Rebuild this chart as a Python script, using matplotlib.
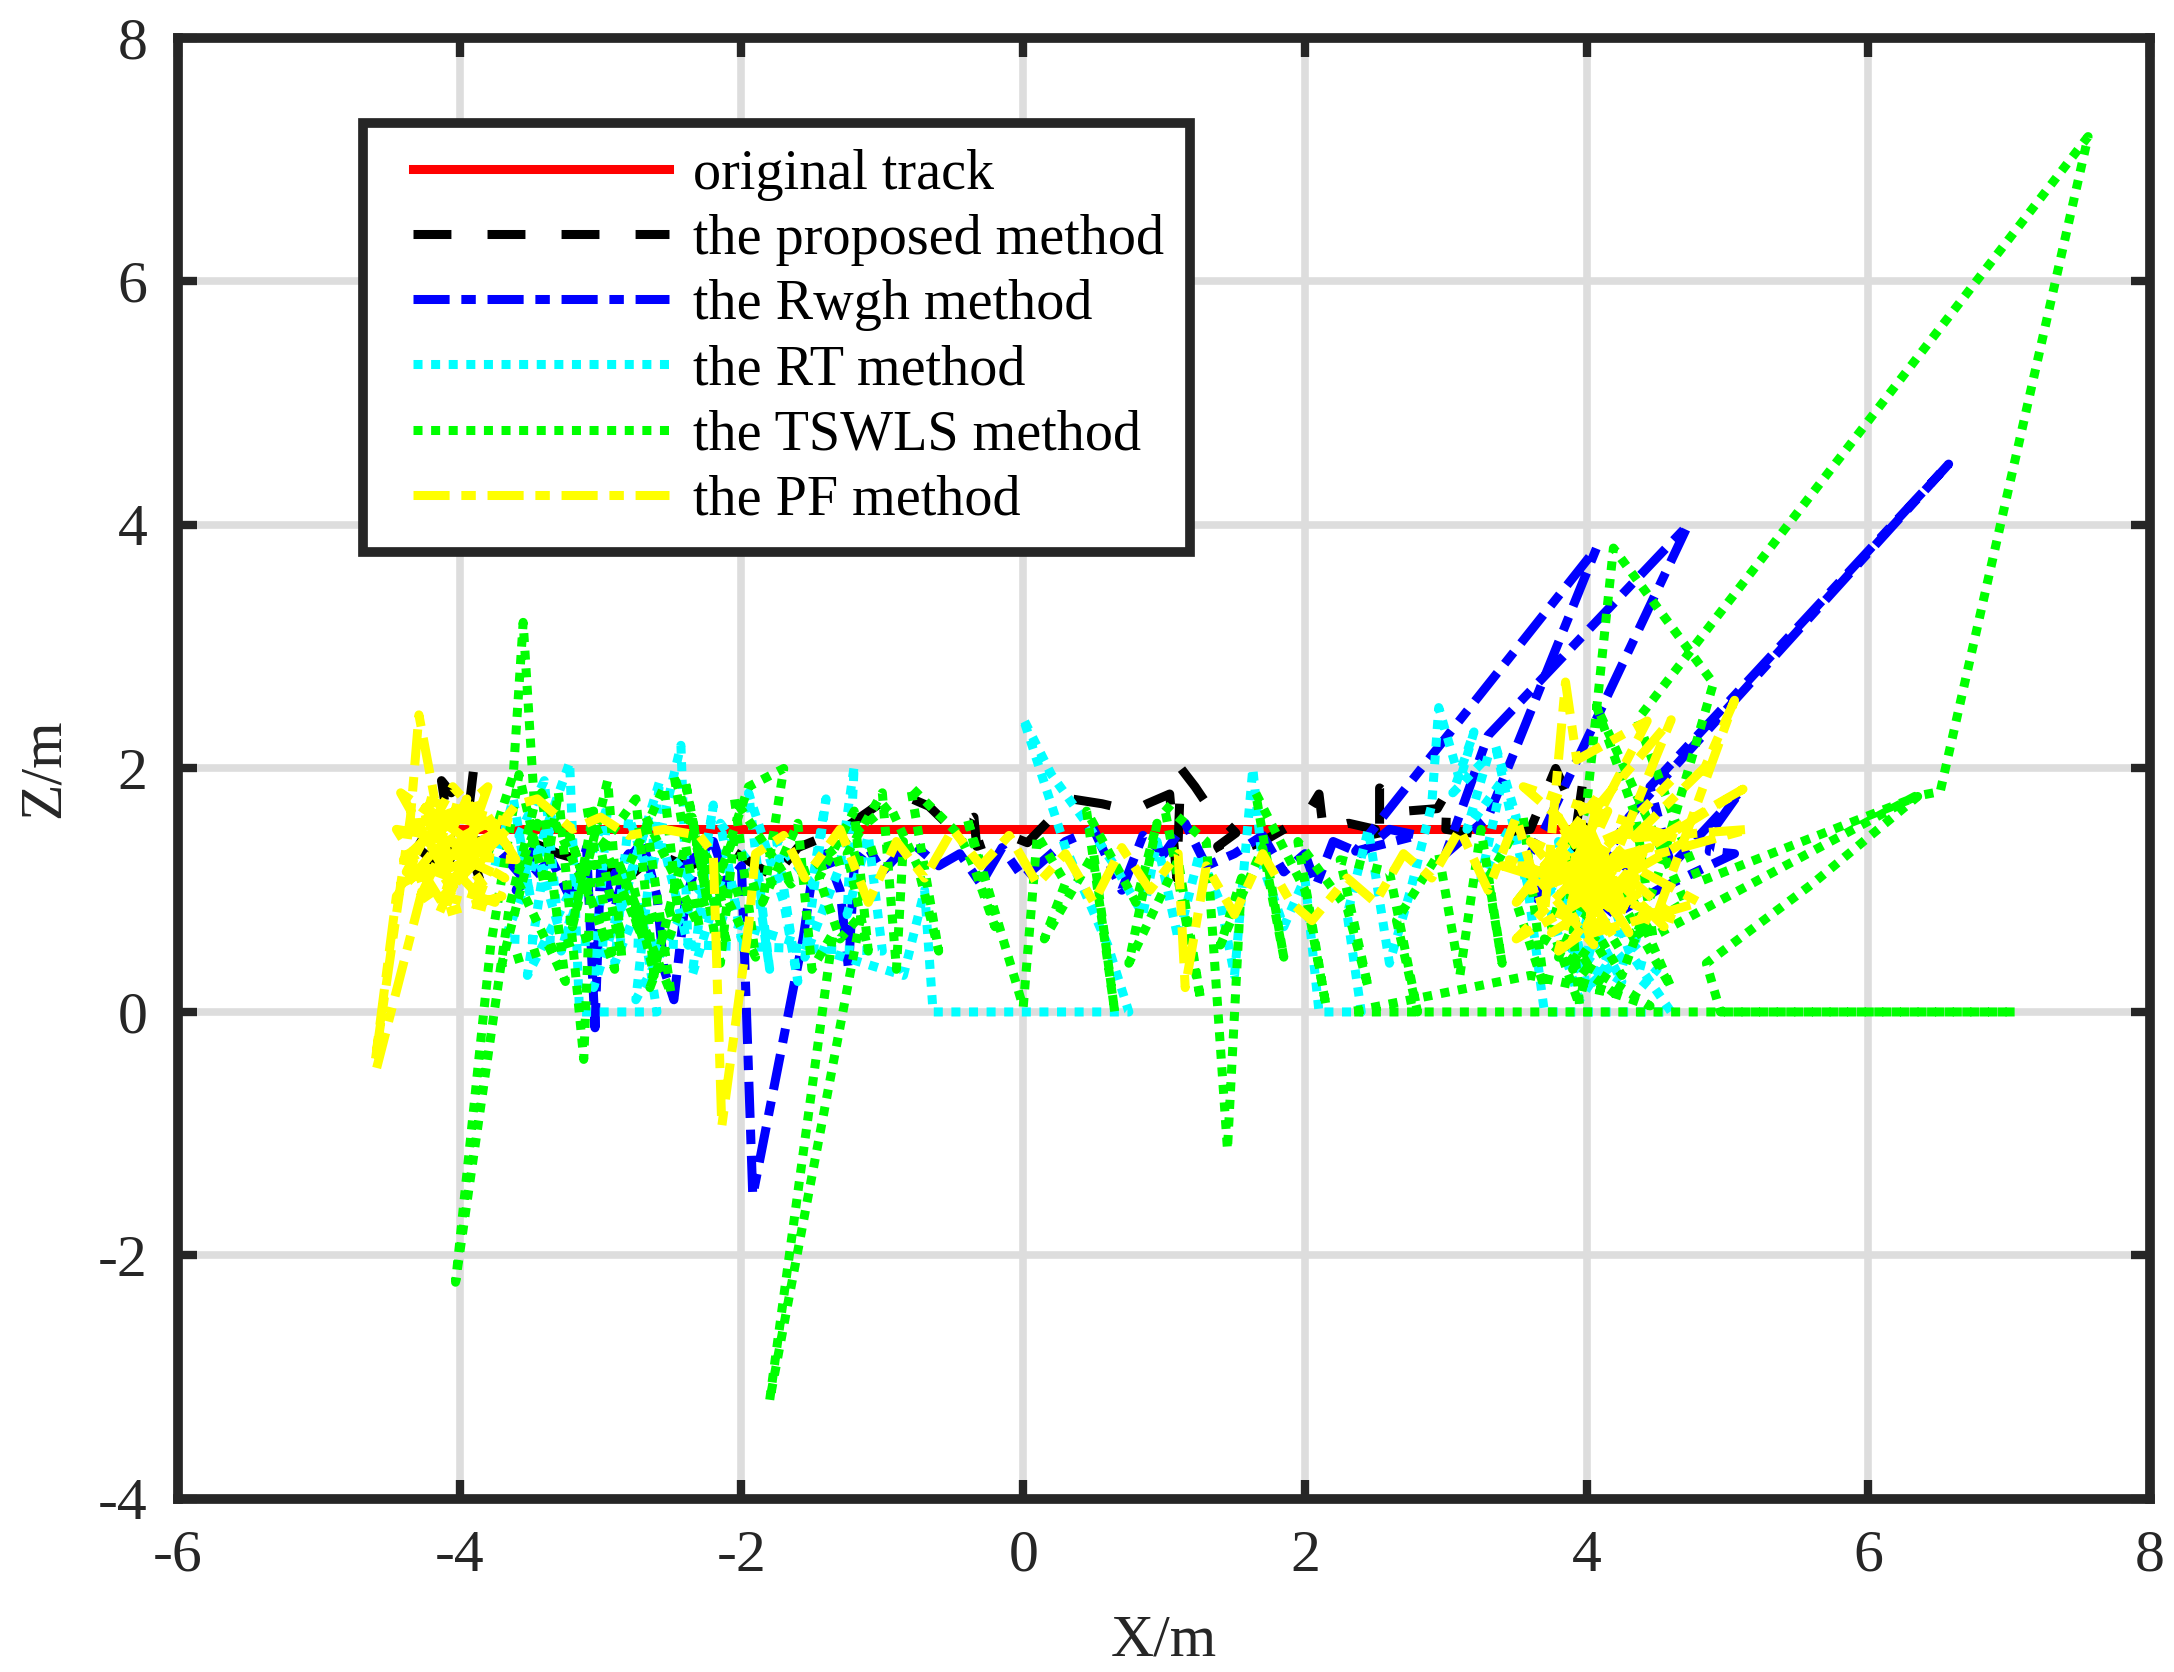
import numpy as np
import matplotlib.pyplot as plt
from matplotlib.lines import Line2D
from matplotlib.legend_handler import HandlerLine2D

# original track (constant height)
track_x = [-4.0, -2.0, 0.0, 2.0, 4.0]
track_z = [1.5, 1.5, 1.5, 1.5, 1.5]

# the proposed method
prop_x = [-4.25, -4.30, -4.15, -4.15, -4.05, -4.13, -4.06, -3.90, -3.93, -3.98, -3.85, -3.90,
          -3.60, -3.30, -3.00, -2.80, -2.60, -2.38, -2.10, -1.81, -1.80, -1.60, -1.28, -1.02,
          -0.83, -0.67, -0.50, -0.35, -0.33, -0.10, 0.03, 0.28, 0.34, 0.56, 0.78, 0.88,
          1.04, 1.09, 1.12, 1.22, 1.29, 1.51, 1.38, 1.42, 1.70, 2.00, 2.10, 2.13,
          2.31, 2.50, 2.53, 2.53, 2.72, 2.94, 3.01, 3.00, 3.30, 3.60, 3.78, 3.88,
          3.97, 3.90, 4.00, 3.85, 4.05, 3.95]
prop_z = [1.45, 1.35, 1.20, 1.05, 1.30, 1.90, 1.80, 2.01, 1.72, 1.50, 1.06, 1.40,
          1.45, 1.30, 1.20, 1.11, 1.30, 1.19, 1.35, 1.14, 1.06, 1.35, 1.50, 1.71,
          1.77, 1.69, 1.50, 1.60, 1.36, 1.45, 1.39, 1.69, 1.75, 1.71, 1.65, 1.71,
          1.79, 1.10, 2.00, 1.85, 1.73, 1.47, 1.36, 1.28, 1.40, 1.60, 1.79, 1.50,
          1.55, 1.50, 1.34, 1.84, 1.65, 1.67, 1.81, 1.50, 1.45, 1.50, 2.00, 1.73,
          1.87, 1.30, 1.50, 1.20, 1.60, 1.40]

# the Rwgh method
rwgh_x = [-3.70, -3.55, -3.45, -3.60, -3.35, -3.20, -3.10, -3.04, -3.00, -2.90, -2.80, -2.95,
          -2.70, -2.60, -2.55, -2.48, -2.40, -2.30, -2.45, -2.20, -2.10, -2.00, -1.92, -1.56,
          -1.50, -1.40, -1.30, -1.24, -1.20, -1.10, -1.00,
          -0.80, -0.60, -0.45, -0.30, -0.15, 0.00, 0.15, 0.30, 0.50, 0.70, 0.85, 1.00,
          1.15, 1.30, 1.50, 1.70, 1.85, 2.00, 2.08, 2.20, 2.40, 2.60, 2.80,
          2.36, 4.07, 3.30, 3.00, 3.30, 4.72, 3.70, 3.55, 3.90, 4.20, 4.30, 6.57,
          4.45, 4.60, 5.09, 4.90, 4.87, 5.05, 4.50, 4.20, 3.80, 3.60, 4.00, 4.40]
rwgh_z = [1.30, 1.10, 1.40, 1.00, 1.25, 0.90, 1.35, -0.13, 1.20, 0.85, 1.30, 1.05,
          1.40, 0.95, 0.35, 0.10, 0.90, 1.30, 1.15, 1.40, 1.05, 1.20, -1.51, 0.62,
          1.10, 1.30, 1.00, 0.35, 1.20, 1.35, 1.15,
          1.40, 1.20, 1.30, 1.05, 1.35, 1.10, 1.25, 1.40, 1.50, 1.00, 1.45, 1.30,
          1.55, 1.20, 1.30, 1.45, 1.15, 1.30, 1.04, 1.40, 1.30, 1.50, 1.45,
          1.32, 3.81, 1.60, 1.30, 2.27, 4.00, 1.50, 1.20, 1.00, 1.40, 1.60, 4.50,
          1.85, 1.20, 1.81, 1.50, 1.32, 1.30, 1.00, 0.80, 1.20, 0.90, 1.40, 1.10]

# the RT method
rt_x = [-3.75, -3.62, -3.50, -3.58, -3.40, -3.30, -3.45, -3.22, -3.15, -3.00, -2.85, -2.60,
        -2.72, -2.90, -2.80, -2.65, -2.50, -2.43, -2.38, -2.55, -2.30, -2.20, -2.35, -2.10,
        -2.00, -2.15, -1.90, -1.80, -1.95, -1.70, -1.60, -1.75, -1.50, -1.40, -1.55, -1.30,
        -1.20, -1.25, -1.10, -1.00,
        -3.68, -3.35, -3.52, -3.10, -3.28, -2.95, -3.05, -2.70, -2.88, -2.58, -2.75, -2.40,
        -0.85, -0.70, -0.64, 0.75, 0.60, 0.45, 0.30, 0.00, 0.20, 0.45, 0.65, 0.85,
        0.95, 1.10, 1.25, 1.40, 1.50, 1.63, 1.70, 1.85, 2.00, 2.10, 2.40, 2.30,
        2.45, 2.60, 2.75, 2.90, 2.95, 3.10,
        3.20, 3.05, 3.30, 3.15, 3.40, 3.25, 3.50, 3.35, 3.60, 3.55, 3.70, 4.60,
        4.30, 4.10, 3.90, 4.20, 3.80, 4.00, 4.40, 3.75, 3.95, 4.15, 3.65, 4.05,
        4.25, 3.85, 4.50, 4.35]
rt_z = [1.20, 1.75, 0.95, 1.45, 1.90, 0.70, 1.30, 2.05, 0.00, 0.00, 0.00, 0.00,
        0.90, 0.40, 1.60, 1.10, 1.85, 2.19, 0.55, 1.35, 1.00, 1.70, 0.30, 1.25,
        0.60, 1.55, 1.15, 0.35, 1.80, 0.90, 0.25, 1.40, 1.05, 1.75, 0.45, 1.20,
        2.02, 0.80, 1.45, 0.50,
        0.60, 1.60, 0.30, 1.25, 0.50, 1.70, 0.20, 1.45, 0.75, 1.90, 0.10, 0.85,
        0.30, 1.00, 0.00, 0.00, 0.55, 0.95, 1.35, 2.41, 1.95, 1.55, 1.20, 0.80,
        1.40, 0.60, 1.30, 0.90, 0.30, 2.00, 1.20, 0.70, 1.10, 0.00, 0.00, 0.80,
        1.50, 0.40, 1.00, 1.70, 2.50, 1.90,
        2.30, 1.80, 2.10, 1.50, 1.90, 1.10, 1.60, 2.20, 0.90, 1.30, 0.00, 0.00,
        0.50, 1.20, 0.30, 0.90, 1.40, 0.20, 0.60, 0.80, 0.10, 0.45, 1.10, 0.70,
        0.25, 0.55, 0.35, 0.15]

# the TSWLS method
tswls_x = [-3.80, -3.62, -3.55, -3.47, -3.65, -4.03, -3.78, -3.58, -3.40, -3.30, -3.12, -3.05,
           -3.20, -2.95, -2.85, -3.00, -2.75, -2.62, -2.80, -2.55, -2.45, -2.65, -2.35, -2.25,
           -2.40, -2.15, -2.05, -2.20, -1.95, -1.70, -1.85, -1.60, -1.50, -1.35, -1.80, -1.15,
           -1.30, -1.45, -1.20, -1.10, -1.25, -1.00, -0.90, -0.85,
           -3.70, -3.45, -3.60, -3.25, -3.42, -3.08, -3.22, -2.90, -3.10, -2.70, -2.88, -2.50,
           -2.68, -2.30, -2.48, -2.10, -2.28, -1.90, -2.05, -1.65,
           -0.95, -0.75, -0.60, -0.80, -0.45, -0.35, -0.20, -0.40, 0.00, 0.10, 0.30, 0.15,
           0.50, 0.65, 0.45, 0.80, 0.95, 0.75, 1.10, 1.26, 1.00, 1.30, 1.45, 1.55,
           1.40, 1.70, 1.85, 1.65, 2.00, 2.15, 1.95, 2.30, 2.45, 2.25, 2.60, 2.80,
           2.65, 2.95, 3.10,
           3.25, 3.40, 3.30, 3.55, 3.70, 3.50, 3.85, 3.95, 3.75, 4.00, 4.19, 4.90,
           4.50, 4.25, 4.00, 3.80, 4.10, 4.40, 4.60, 4.30, 3.90, 4.70, 4.07, 4.35,
           4.47, 6.33, 6.51, 7.56, 4.36, 4.65, 4.80, 6.35, 5.60, 4.85, 4.95, 7.04,
           2.32, 3.60, 4.20, 3.70, 4.45, 3.95]
tswls_z = [1.30, 1.95, 3.20, 1.70, 0.85, -2.22, 0.55, 1.95, 1.05, 1.80, -0.39, 1.65,
           0.70, 1.90, 0.45, 1.35, 1.75, 0.30, 1.20, 1.85, 0.80, 0.20, 1.60, 0.95,
           1.90, 0.40, 1.45, 1.00, 1.85, 2.00, 0.90, 1.55, 0.35, 0.65, -3.19, 0.80,
           0.60, 1.10, 1.65, 0.50, 1.30, 1.80, 0.35, 1.40,
           0.40, 1.55, 1.10, 0.25, 1.80, 0.95, 1.45, 0.35, 1.70, 0.60, 1.25, 0.15,
           1.60, 0.70, 1.95, 0.55, 1.35, 0.45, 1.75, 1.05,
           1.70, 1.20, 0.50, 1.85, 1.45, 1.19, 0.70, 1.60, 0.04, 1.45, 1.06, 0.60,
           1.30, 0.00, 1.65, 0.90, 1.55, 0.40, 1.25, 0.10, 1.70, 1.40, -1.13, 1.10,
           0.55, 1.35, 0.45, 1.80, 1.00, 0.05, 1.40, 0.85, 0.20, 1.25, 1.15, 0.00,
           0.75, 1.30, 0.30,
           1.50, 0.40, 1.10, 1.60, 0.20, 0.90, 1.40, 0.05, 0.70, 1.70, 3.81, 2.70,
           1.10, 0.30, 0.80, 0.45, 1.20, 0.60, 0.20, 1.00, 0.35, 0.90, 2.51, 1.60,
           0.62, 1.77, 1.81, 7.19, 2.40, 1.50, 1.07, 1.77, 1.05, 0.40, 0.00, 0.00,
           0.00, 0.30, 0.15, 0.60, 0.05, 0.25]

# the PF method
pf_x = [-4.59, -4.20, -4.45, -4.60, -4.35, -4.29, -4.07, -4.42, -3.80, -4.30, -3.95, -4.40,
        -3.70, -4.15, -3.85, -4.35, -3.68, -4.25, -3.80, -4.10, -4.45, -3.65, -4.05, -4.38,
        -3.75, -4.20, -3.70, -4.42, -3.90, -4.28, -3.62, -4.12, -3.78, -4.35, -3.85, -3.60,
        -4.22, -3.72, -4.02,
        -3.60, -3.45, -3.20, -3.00, -2.80, -2.55, -2.30, -2.20, -2.14, -1.95, -1.90, -1.70,
        -1.55, -1.30, -1.10, -0.90, -0.70, -0.50, -0.30, -0.10, 0.10, 0.30, 0.50, 0.70,
        0.90, 1.10, 1.15, 1.30, 1.50, 1.70, 1.90, 2.05, 2.30, 2.50, 2.70, 2.90,
        3.10, 3.30,
        3.50, 3.70, 3.85, 3.93, 4.43, 3.90, 4.20, 3.60, 4.40, 3.80, 4.10, 3.50,
        4.60, 4.00, 4.30, 3.70, 4.50, 5.05, 4.84, 3.95, 5.11, 4.54, 4.20, 5.15,
        4.00, 4.80, 3.90, 4.40, 3.60, 4.15, 3.75, 4.35, 3.85, 4.55, 3.45, 4.25,
        3.95, 4.05, 3.65, 4.45, 4.10, 3.80, 4.30, 4.00, 3.40, 4.65, 3.55, 4.70,
        3.50, 4.60]
pf_z = [-0.46, 1.30, 0.95, -0.40, 1.60, 2.44, 1.08, 1.80, 1.30, 0.90, 1.75, 1.25,
        0.95, 0.80, 1.60, 1.55, 1.10, 1.40, 1.85, 0.85, 1.50, 1.35, 1.85, 1.15,
        0.90, 1.65, 1.50, 1.05, 1.25, 1.75, 1.55, 0.95, 0.85, 1.55, 1.70, 1.25,
        1.30, 1.60, 1.10,
        1.70, 1.75, 1.50, 1.60, 1.45, 1.50, 1.45, 1.30, -0.94, 0.70, 1.30, 1.45,
        1.10, 1.50, 0.90, 1.40, 1.10, 1.50, 1.20, 1.45, 1.05, 1.30, 0.90, 1.35,
        1.00, 1.30, 0.20, 1.20, 0.80, 1.30, 0.90, 0.75, 1.10, 0.90, 1.30, 1.10,
        1.50, 1.00,
        1.60, 0.80, 2.71, 2.07, 2.39, 1.20, 0.60, 1.40, 1.00, 0.50, 1.80, 0.90,
        2.40, 0.70, 1.50, 1.20, 0.80, 2.56, 2.01, 1.00, 1.83, 1.45, 1.20, 1.50,
        1.40, 0.90, 0.60, 1.30, 1.00, 1.65, 0.65, 1.10, 1.50, 0.70, 1.25, 0.90,
        1.70, 0.55, 1.10, 1.35, 0.80, 1.60, 0.65, 1.20, 1.20, 0.75, 1.85, 1.40,
        0.60, 1.90]

plt.rcParams['font.family'] = ['Liberation Serif', 'DejaVu Serif']
plt.rcParams['axes.unicode_minus'] = False

dark = '#262626'
lw = 6.5
dotted = (0, (1, 0.95))
dashdot = (0, (4.0, 1.3, 1.6, 1.3))

fig = plt.figure(figsize=(21.74, 16.72), dpi=100)
ax = fig.add_axes([0.0819, 0.1035, 0.9071, 0.8738])

ax.plot(track_x, track_z, color='#ff0000', lw=lw, linestyle='-', label='original track')
ax.plot(prop_x, prop_z, color='black', lw=lw, linestyle=(0, (4.2, 4.0)), label='the proposed method')
ax.plot(rwgh_x, rwgh_z, color='#0000ff', lw=lw, linestyle=dashdot, label='the Rwgh method')
ax.plot(rt_x, rt_z, color='#00ffff', lw=lw, linestyle=dotted, label='the RT method')
ax.plot(tswls_x, tswls_z, color='#00ff00', lw=lw, linestyle=dotted, label='the TSWLS method')
ax.plot(pf_x, pf_z, color='#ffff00', lw=lw, linestyle=dashdot, label='the PF method')

ax.set_xlim(-6, 8)
ax.set_ylim(-4, 8)
ax.set_xticks(np.arange(-6, 9, 2))
ax.set_yticks(np.arange(-4, 9, 2))
ax.grid(True, color='#dddddd', lw=5.5)
ax.set_axisbelow(True)
ax.tick_params(direction='in', length=14, width=6, colors=dark, labelsize=43,
               top=True, right=True, pad=22)
for s in ax.spines.values():
    s.set_linewidth(7)
    s.set_color(dark)

ax.set_xlabel('X/m', fontsize=43, color=dark, labelpad=22)
ax.set_ylabel('Z/m', fontsize=43, color=dark, labelpad=19)

leg = ax.legend(loc='upper left', bbox_to_anchor=(0.094, 0.942), borderaxespad=0,
                fontsize=40.4, handlelength=5.41, handletextpad=0.0, labelspacing=0.235,
                borderpad=0.46, fancybox=False, framealpha=1,
                handler_map={Line2D: HandlerLine2D(marker_pad=0.43, numpoints=2)})
leg.get_frame().set_edgecolor(dark)
leg.get_frame().set_linewidth(7)

fig.savefig('out.png', dpi=100)
